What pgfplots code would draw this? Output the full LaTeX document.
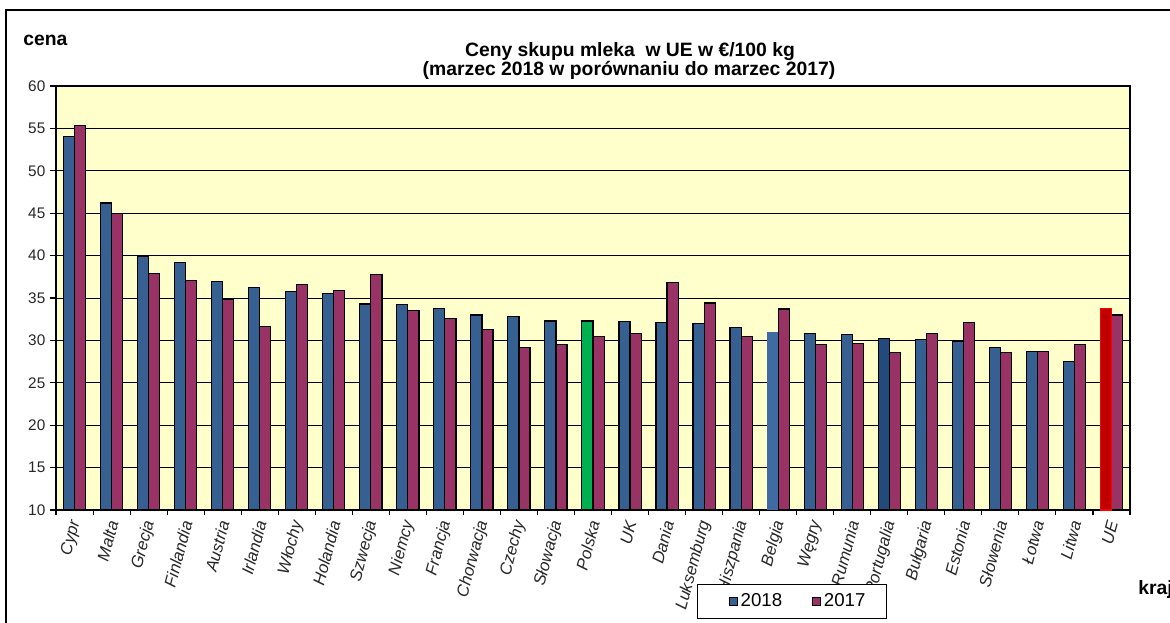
\documentclass[border=0pt]{standalone}
\usepackage{pgfplots}
\pgfplotsset{compat=1.18}
\usepackage{fontspec}
\setmainfont{Liberation Sans}
\definecolor{cA}{HTML}{376092}
\definecolor{cB}{HTML}{993366}
\definecolor{bgY}{HTML}{FFFFCC}
\definecolor{cPL}{HTML}{00B050}
\definecolor{cBE}{HTML}{3E6BA3}
\definecolor{cPT}{HTML}{234A7C}
\definecolor{cUE}{HTML}{C00000}
\definecolor{cUEb}{HTML}{FF0000}
\pgfplotsset{sqlegend/.style={legend image code/.code={\path (-10pt,0pt); \draw[##1,line width=0.8pt] (0pt,-3.2pt) rectangle (6pt,2.8pt);}}}
\begin{document}
\begin{tikzpicture}
\useasboundingbox (0pt,0pt) rectangle (877.5pt,-467.25pt);
\draw[line width=0.8pt] (4.5pt,-7.5pt) rectangle (900pt,-490pt);
\node[anchor=base west,font=\bfseries\fontsize{14.5}{16}\selectfont,inner sep=0pt] at (17.25pt,-34.5pt) {cena};
\node[anchor=base,font=\bfseries\fontsize{14.5}{16}\selectfont,inner sep=0pt] at (472.5pt,-42.5pt) {Ceny skupu mleka\ \ w UE w €/100 kg};
\node[anchor=base,font=\bfseries\fontsize{14.5}{16}\selectfont,inner sep=0pt] at (471.75pt,-57pt) {(marzec 2018 w porównaniu do marzec 2017)};
\node[anchor=base west,font=\bfseries\fontsize{14.5}{16}\selectfont,inner sep=0pt] at (853.5pt,-446pt) {kraj};
\begin{axis}[
  at={(42pt,-382.5pt)}, anchor=south west,
  width=805.5pt, height=318pt, scale only axis,
  xmin=-0.5, xmax=28.5, ymin=10, ymax=60,
  ybar, bar width=0.3,
  axis background/.style={fill=bgY},
  axis line style={line width=1.3pt},
  ytick={10,15,...,60},
  ymajorgrids, major grid style={black,line width=0.7pt},
  tick align=outside, tick pos=left,
  major tick length=4.5pt, minor tick length=4pt,
  xtick={0,...,28},
  xticklabels={Cypr,Malta,Grecja,Finlandia,Austria,Irlandia,Włochy,Holandia,Szwecja,Niemcy,Francja,Chorwacja,Czechy,Słowacja,Polska,UK,Dania,Luksemburg,Hiszpania,Belgia,Węgry,Rumunia,Portugalia,Bułgaria,Estonia,Słowenia,Łotwa,Litwa,UE},
  major x tick style={draw=none},
  minor xtick={-0.5,0.5,...,28.5},
  minor x tick style={black,line width=0.8pt},
  ytick style={black,line width=0.8pt},
  /pgf/number format/assume math mode=true,
  yticklabel style={font=\fontsize{11.5}{13}\selectfont,text=black!85},
  xticklabel style={font=\itshape\fontsize{12.5}{15}\selectfont,rotate=75,anchor=east,text=black!85,yshift=-2pt},
  legend columns=2,
  legend style={at={(0.5968,-0.1745)},anchor=north west,draw=black,line width=0.8pt,fill=white,
    font=\fontsize{14}{16}\selectfont,inner xsep=13.5pt,inner ysep=5pt,
    /tikz/every even column/.append style={column sep=10.5pt}},
]
\addplot[fill=cA,draw=black,line width=0.9pt,bar shift=-0.15,sqlegend] coordinates {
(0,54.0) (1,46.2) (2,39.9) (3,39.2) (4,36.9) (5,36.2) (6,35.8) (7,35.5) (8,34.3) (9,34.2)
(10,33.8) (11,33.0) (12,32.8) (13,32.3) (15,32.2) (16,32.1) (17,32.0) (18,31.5)
(20,30.8) (21,30.7) (23,30.1) (24,29.9) (25,29.2) (26,28.7) (27,27.5)};
\addlegendentry{2018}
\addplot[fill=cB,draw=black,line width=0.9pt,bar shift=0.15,sqlegend] coordinates {
(0,55.3) (1,45.0) (2,37.9) (3,37.1) (4,34.8) (5,31.6) (6,36.6) (7,35.9) (8,37.8) (9,33.5)
(10,32.6) (11,31.3) (12,29.2) (13,29.5) (14,30.5) (15,30.8) (16,36.8) (17,34.4) (18,30.5)
(19,33.7) (20,29.5) (21,29.6) (22,28.6) (23,30.8) (24,32.1) (25,28.6) (26,28.7) (27,29.5) (28,33.0)};
\addlegendentry{2017}
\addplot[fill=cPL,draw=black,line width=0.9pt,bar shift=-0.15,forget plot] coordinates {(14,32.3)};
\addplot[fill=cBE,draw=none,bar shift=-0.15,forget plot] coordinates {(19,31.0)};
\addplot[fill=cPT,draw=black,line width=0.9pt,bar shift=-0.15,forget plot] coordinates {(22,30.2)};
\addplot[fill=cUE,draw=cUEb,line width=0.9pt,bar shift=-0.15,forget plot] coordinates {(28,33.8)};
\end{axis}
\end{tikzpicture}
\end{document}
